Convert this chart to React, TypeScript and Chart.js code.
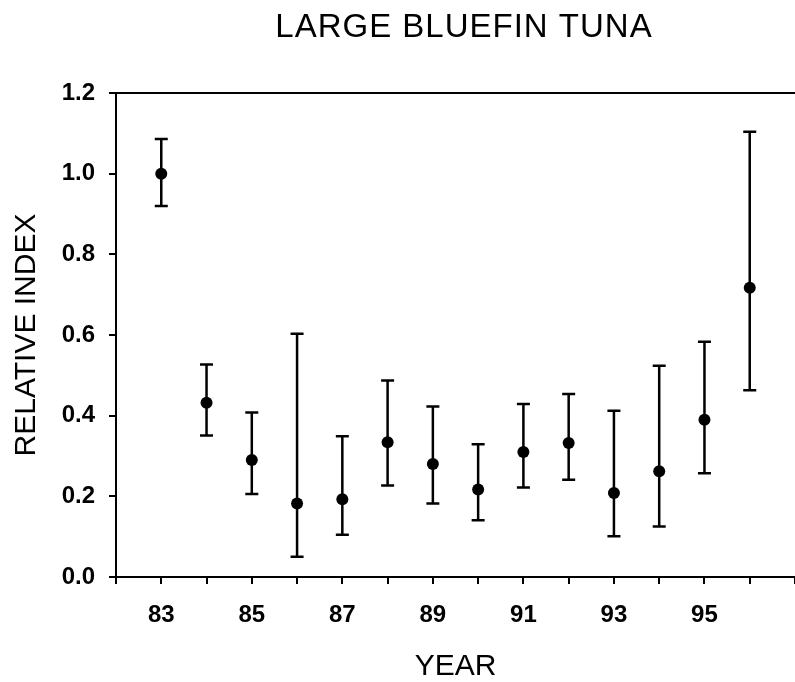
import React, { useEffect, useRef } from 'react';
import { Chart, registerables } from 'chart.js';

Chart.register(...registerables);

const years = [83, 84, 85, 86, 87, 88, 89, 90, 91, 92, 93, 94, 95, 96];
const indexValues = [1.0, 0.432, 0.29, 0.182, 0.193, 0.334, 0.28, 0.217, 0.31, 0.332, 0.208, 0.262, 0.39, 0.717];
const upperValues = [1.086, 0.527, 0.408, 0.603, 0.349, 0.487, 0.423, 0.329, 0.429, 0.454, 0.412, 0.524, 0.583, 1.104];
const lowerValues = [0.92, 0.351, 0.206, 0.05, 0.105, 0.227, 0.182, 0.141, 0.222, 0.241, 0.101, 0.125, 0.257, 0.463];
const labeledYears = [83, 85, 87, 89, 91, 93, 95];

const chartTitle = 'LARGE BLUEFIN TUNA';
const xTitle = 'YEAR';
const yTitle = 'RELATIVE INDEX';

const FONT = '"Liberation Sans", Arial, Helvetica, sans-serif';

const errorBarPlugin = {
  id: 'errorBars',
  beforeDatasetsDraw(chart: any) {
    const { ctx, scales } = chart;
    const x = scales.x;
    const y = scales.y;
    ctx.save();
    ctx.strokeStyle = '#000';
    ctx.lineWidth = 2.5;
    years.forEach((yr, i) => {
      const px = x.getPixelForValue(yr);
      const top = y.getPixelForValue(upperValues[i]);
      const bot = y.getPixelForValue(lowerValues[i]);
      ctx.beginPath();
      ctx.moveTo(px, top);
      ctx.lineTo(px, bot);
      ctx.moveTo(px - 6.5, top);
      ctx.lineTo(px + 6.5, top);
      ctx.moveTo(px - 6.5, bot);
      ctx.lineTo(px + 6.5, bot);
      ctx.stroke();
    });
    ctx.restore();
  },
};

const frameTitlePlugin = {
  id: 'frameTitle',
  afterDraw(chart: any) {
    const { ctx, chartArea } = chart;
    ctx.save();
    ctx.strokeStyle = '#000';
    ctx.lineWidth = 2;
    ctx.beginPath();
    ctx.moveTo(chartArea.left, chartArea.top);
    ctx.lineTo(chartArea.right, chartArea.top);
    ctx.stroke();
    ctx.fillStyle = '#000';
    ctx.font = `33px ${FONT}`;
    (ctx as any).letterSpacing = '1px';
    ctx.textAlign = 'center';
    ctx.textBaseline = 'alphabetic';
    ctx.fillText(chartTitle, 464, 37);
    ctx.restore();
  },
};

export default function App() {
  const canvasRef = useRef<HTMLCanvasElement | null>(null);

  useEffect(() => {
    if (!canvasRef.current) return;
    const chart = new Chart(canvasRef.current, {
      type: 'scatter',
      data: {
        datasets: [
          {
            label: 'Relative index',
            data: years.map((yr, i) => ({ x: yr, y: indexValues[i] })),
            pointRadius: 6,
            pointHoverRadius: 6,
            backgroundColor: '#000',
            borderColor: '#000',
            borderWidth: 0,
            showLine: false,
            clip: false as any,
          },
        ],
      },
      options: {
        responsive: false,
        animation: false,
        devicePixelRatio: 1,
        layout: { autoPadding: false, padding: { top: 93, right: 0, left: 0, bottom: 0 } },
        plugins: {
          legend: { display: false },
          tooltip: { enabled: false },
          title: { display: false },
        },
        scales: {
          x: {
            type: 'linear',
            position: 'bottom',
            min: 82,
            max: 97,
            afterFit: (s: any) => {
              s.height = 105;
              s.paddingLeft = 0;
              s.paddingRight = 0;
            },
            ticks: {
              stepSize: 1,
              autoSkip: false,
              maxRotation: 0,
              padding: 17,
              color: '#000',
              font: { family: FONT, size: 24, weight: 'bold' },
              callback: (v: any) => (labeledYears.includes(Number(v)) ? String(v) : ''),
            },
            grid: {
              drawOnChartArea: false,
              drawTicks: true,
              tickLength: 7,
              color: '#000',
              lineWidth: 2,
            },
            border: { display: true, color: '#000', width: 2 },
            title: {
              display: true,
              text: xTitle,
              color: '#000',
              font: { family: FONT, size: 30, lineHeight: 1 },
              padding: { top: 0, bottom: 0 },
            },
          },
          y: {
            type: 'linear',
            min: 0,
            max: 1.2,
            afterFit: (s: any) => {
              s.width = 116;
              s.paddingTop = 0;
              s.paddingBottom = 0;
            },
            ticks: {
              stepSize: 0.2,
              padding: 14,
              color: '#000',
              font: { family: FONT, size: 24, weight: 'bold' },
              callback: (v: any) => Number(v).toFixed(1),
            },
            grid: {
              drawOnChartArea: false,
              drawTicks: true,
              tickLength: 7,
              color: '#000',
              lineWidth: 2,
            },
            border: { display: true, color: '#000', width: 2 },
            title: {
              display: true,
              text: yTitle,
              color: '#000',
              font: { family: FONT, size: 30, lineHeight: 1 },
              padding: { top: 12, bottom: 0 },
            },
          },
        },
      },
      plugins: [errorBarPlugin, frameTitlePlugin],
    });
    return () => chart.destroy();
  }, []);

  return (
    <div style={{ position: 'fixed', left: 0, top: 0, width: 795, height: 682, background: '#fff' }}>
      <canvas ref={canvasRef} width={795} height={682} style={{ display: 'block' }} />
    </div>
  );
}
